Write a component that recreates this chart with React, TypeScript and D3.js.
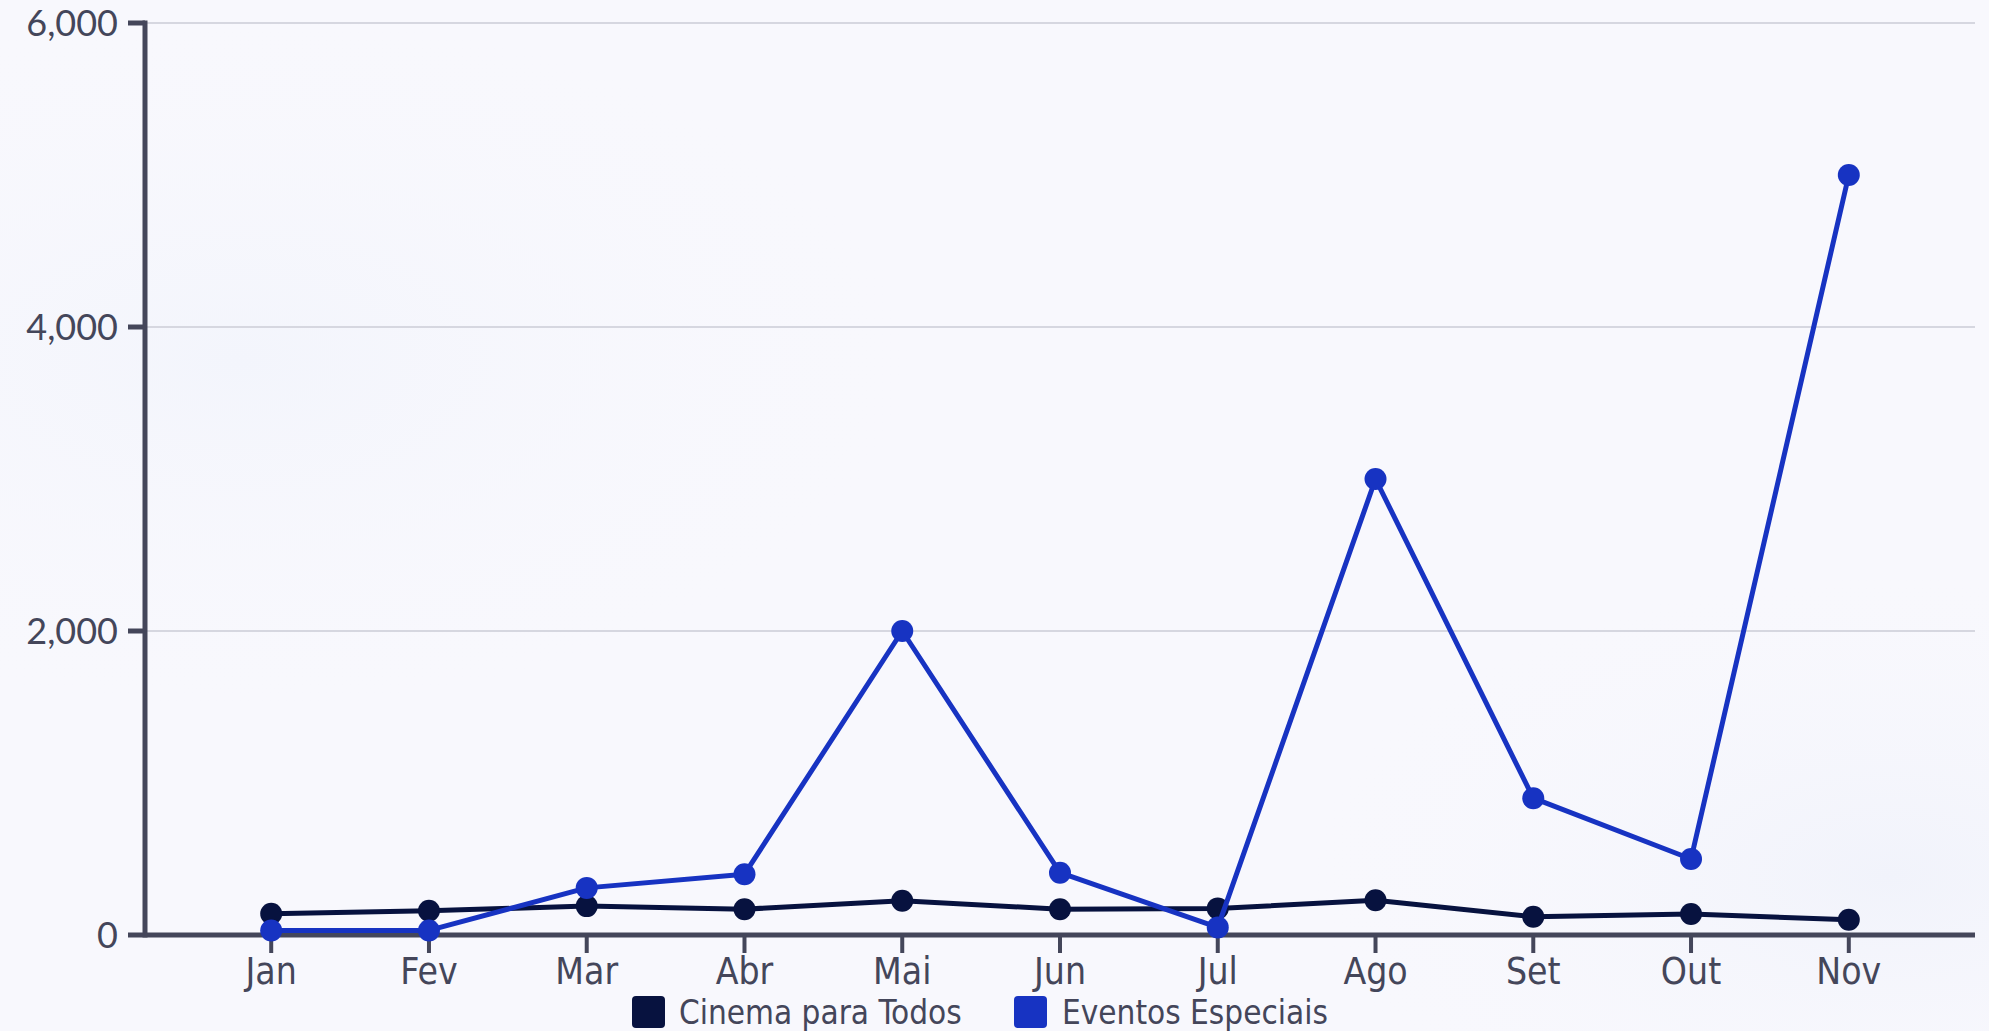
import React from "react";
import * as d3 from "d3";

const width = 1989;
const height = 1031;
const margin = { top: 23, right: 14, bottom: 96, left: 145 };

const months = ["Jan", "Fev", "Mar", "Abr", "Mai", "Jun", "Jul", "Ago", "Set", "Out", "Nov"];
const cinemaParaTodos = [140, 160, 190, 170, 225, 170, 175, 228, 120, 138, 100];
const eventosEspeciais = [30, 30, 310, 400, 2000, 410, 50, 3000, 900, 500, 5000];
const yTicks = [0, 2000, 4000, 6000];

const seriesNames = ["Cinema para Todos", "Eventos Especiais"];
const seriesColors = ["#07123f", "#1733c2"];

const axisColor = "#44465a";
const xFont = "'Liberation Sans Narrow', 'DejaVu Sans Condensed', 'Roboto Condensed', sans-serif";
const yFont = "Lato, 'Open Sans', sans-serif";

export default function App() {
  const x = d3
    .scalePoint<string>()
    .domain(months)
    .range([margin.left, width - margin.right])
    .padding(0.8);

  const y = d3
    .scaleLinear()
    .domain([0, 6000])
    .range([height - margin.bottom, margin.top]);

  const line = d3
    .line<number>()
    .x((_, i) => x(months[i]) as number)
    .y(d => y(d));

  const series = [cinemaParaTodos, eventosEspeciais];
  const fmt = d3.format(",");
  const y0 = y(0);

  // legend placement
  const legendY = 1012;
  const legendItems = [
    { x: 632, textX: 679 },
    { x: 1014, textX: 1062 }
  ];

  return (
    <svg
      width={width}
      height={height}
      style={{ position: "absolute", left: 0, top: 0, display: "block" }}
    >
      <defs>
        <radialGradient id="bg1" cx="0.12" cy="0.35" r="0.35">
          <stop offset="0%" stopColor="#f3f5fc" />
          <stop offset="100%" stopColor="#f8f8fd" stopOpacity={0} />
        </radialGradient>
        <radialGradient id="bg2" cx="0.95" cy="0.85" r="0.3">
          <stop offset="0%" stopColor="#f1f3fb" />
          <stop offset="100%" stopColor="#f8f8fd" stopOpacity={0} />
        </radialGradient>
      </defs>
      <rect width={width} height={height} fill="#f8f8fd" />
      <rect width={width} height={height} fill="url(#bg1)" />
      <rect width={width} height={height} fill="url(#bg2)" />

      {/* grid */}
      {yTicks.filter(t => t > 0).map(t => (
        <line
          key={t}
          x1={margin.left}
          x2={width - margin.right}
          y1={y(t)}
          y2={y(t)}
          stroke="#d6d7e0"
          strokeWidth={2}
        />
      ))}

      {/* y axis */}
      <line x1={margin.left} x2={margin.left} y1={y(6000) - 2.5} y2={y0 + 2.5} stroke={axisColor} strokeWidth={5} />
      {yTicks.map(t => (
        <g key={t}>
          <line x1={128} x2={margin.left} y1={y(t)} y2={y(t)} stroke={axisColor} strokeWidth={5} />
          <text
            x={118}
            y={y(t)}
            dy="0.35em"
            textAnchor="end"
            fontFamily={yFont}
            fontSize={36}
            fill={axisColor}
          >
            {fmt(t)}
          </text>
        </g>
      ))}

      {/* x axis */}
      <line x1={margin.left} x2={width - margin.right} y1={y0} y2={y0} stroke={axisColor} strokeWidth={5} />
      {months.map(m => (
        <g key={m}>
          <line x1={x(m)} x2={x(m)} y1={y0} y2={y0 + 18} stroke={axisColor} strokeWidth={4} />
          <text
            x={x(m)}
            y={984}
            textAnchor="middle"
            fontFamily={xFont}
            fontSize={37}
            fill={axisColor}
          >
            {m}
          </text>
        </g>
      ))}

      {/* lines */}
      {series.map((s, si) => (
        <g key={si}>
          <path d={line(s) as string} fill="none" stroke={seriesColors[si]} strokeWidth={5} strokeLinejoin="round" />
          {s.map((v, i) => (
            <circle key={i} cx={x(months[i])} cy={y(v)} r={11} fill={seriesColors[si]} />
          ))}
        </g>
      ))}

      {/* legend */}
      {legendItems.map((it, i) => (
        <g key={i}>
          <rect x={it.x} y={legendY - 16} width={33} height={32} rx={4} fill={seriesColors[i]} />
          <text
            x={it.textX}
            y={legendY}
            dy="0.35em"
            fontFamily={xFont}
            fontSize={33}
            fill={axisColor}
          >
            {seriesNames[i]}
          </text>
        </g>
      ))}
    </svg>
  );
}
